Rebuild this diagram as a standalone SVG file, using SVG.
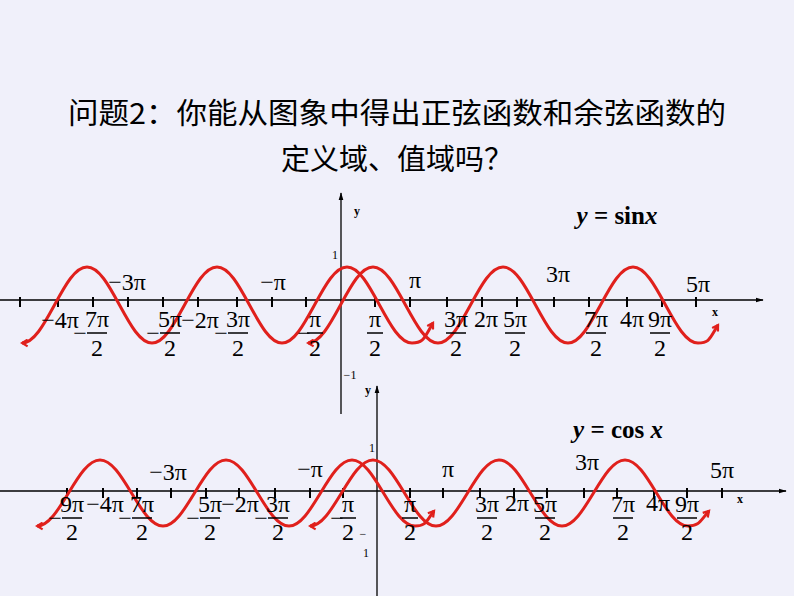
<svg xmlns="http://www.w3.org/2000/svg" width="794" height="596" viewBox="0 0 794 596">
<style>
.ax{stroke:#000;stroke-width:1.3;fill:none}
.tk{stroke:#000;stroke-width:2}
.cv{stroke:#e0201c;stroke-width:3;fill:none;marker-start:url(#ar);marker-end:url(#ar)}
.t{font-family:"Liberation Serif",serif;font-size:24px;fill:#000;text-anchor:middle}
.s{font-family:"Liberation Serif",serif;font-size:12px;fill:#000;text-anchor:middle}
.fl{stroke:#000;stroke-width:1.5}
.ttl{font-family:"Noto Sans CJK SC",sans-serif;font-size:29px;fill:#000;text-anchor:middle}
.eq{font-family:"Liberation Serif",serif;font-size:25px;font-weight:bold;fill:#000;text-anchor:middle}
</style>
<defs>
<marker id="ar" viewBox="0 0 8 8" refX="6" refY="4" markerWidth="3" markerHeight="3" orient="auto-start-reverse" markerUnits="strokeWidth"><path d="M1,1 L6,4 L1,7" fill="none" stroke="#e0201c" stroke-width="2"/></marker>
<marker id="ka" viewBox="0 0 10 10" refX="9" refY="5" markerWidth="6" markerHeight="6" orient="auto"><path d="M0,2 L10,5 L0,8 z" fill="#000"/></marker>
</defs>
<rect width="794" height="596" fill="#f0f0fa"/>
<g id="title">
<text class="ttl" x="397" y="124" textLength="658" lengthAdjust="spacingAndGlyphs">问题2：你能从图象中得出正弦函数和余弦函数的</text>
<text class="ttl" x="397" y="170">定义域、值域吗？</text>
</g>
<g id="axes">
<line class="ax" x1="0" y1="300" x2="763" y2="300" marker-end="url(#ka)"/>
<line class="ax" x1="341" y1="414" x2="341" y2="193" marker-end="url(#ka)"/>
<line class="ax" x1="0" y1="491" x2="786" y2="491" marker-end="url(#ka)"/>
<line class="ax" x1="377" y1="596" x2="377" y2="386" marker-end="url(#ka)"/>
<g class="tk">
<path d="M20,297v10M58,297v10M93,297v10M128,297v10M163,297v10M198,297v10M237,297v10M272,297v10M306,297v10M375,297v10M410,297v10M447,297v10M482,297v10M517,297v10M554,297v10M589,297v10M627,297v10M662,297v10M696,297v10"/>
<path d="M67,488v10M103,488v10M137,488v10M171,488v10M206,488v10M239,488v10M275,488v10M310,488v10M343,488v10M410,488v10M443,488v10M480,488v10M514,488v10M547,488v10M584,488v10M617,488v10M654,488v10M687,488v10M722,488v10"/>
</g>
</g>
<g id="curves">
<path class="cv" d="M22,343 c11.8,0 21.64,-18.05 32.5,-38 s20.7,-38 32.5,-38 s21.64,18.05 32.5,38 s20.7,38 32.5,38 s21.64,-18.05 32.5,-38 s20.7,-38 32.5,-38 s21.64,18.05 32.5,38 s20.7,38 32.5,38 s21.64,-18.05 32.5,-38 s20.7,-38 32.5,-38 s21.64,18.05 32.5,38 s20.7,38 32.5,38 s12,-5 21,-20"/>
<path class="cv" d="M308,343 c11.8,0 21.64,-18.05 32.5,-38 s20.7,-38 32.5,-38 s21.64,18.05 32.5,38 s20.7,38 32.5,38 s21.64,-18.05 32.5,-38 s20.7,-38 32.5,-38 s21.64,18.05 32.5,38 s20.7,38 32.5,38 s21.64,-18.05 32.5,-38 s20.7,-38 32.5,-38 s21.64,18.05 32.5,38 s20.7,38 32.5,38 s12,-5 20,-18"/>
<path class="cv" d="M37,526 c11.43,0 20.98,-15.7 31.5,-33 s20.07,-33 31.5,-33 s20.98,15.7 31.5,33 s20.07,33 31.5,33 s20.98,-15.7 31.5,-33 s20.07,-33 31.5,-33 s20.98,15.7 31.5,33 s20.07,33 31.5,33 s20.98,-15.7 31.5,-33 s20.07,-33 31.5,-33 s20.98,15.7 31.5,33 s20.07,33 31.5,33 s11,-5 19,-15"/>
<path class="cv" d="M310,526 c11.43,0 20.98,-15.7 31.5,-33 s20.07,-33 31.5,-33 s20.98,15.7 31.5,33 s20.07,33 31.5,33 s20.98,-15.7 31.5,-33 s20.07,-33 31.5,-33 s20.98,15.7 31.5,33 s20.07,33 31.5,33 s20.98,-15.7 31.5,-33 s20.07,-33 31.5,-33 s20.98,15.7 31.5,33 s20.07,33 31.5,33 s12,-5 21,-15"/>
</g>
<g id="labels-top">
<text class="eq" x="617" y="224"><tspan font-style="italic">y</tspan> = sin<tspan font-style="italic">x</tspan></text>
<text class="s" x="357" y="215" font-size="15" font-weight="bold">y</text>
<text class="s" x="335" y="259">1</text>
<text class="s" x="350" y="379">−1</text>
<text class="s" x="715" y="316" font-size="15" font-weight="bold">x</text>
<text class="t" x="127" y="290">−3π</text>
<text class="t" x="273" y="290">−π</text>
<text class="t" x="415" y="288">π</text>
<text class="t" x="558" y="282">3π</text>
<text class="t" x="698" y="292">5π</text>
<text class="t" x="60" y="328">−4π</text>
<text class="t" x="200" y="328">−2π</text>
<text class="t" x="486" y="327">2π</text>
<text class="t" x="632" y="327">4π</text>
<text class="t" x="97" y="327">7π</text><line class="fl" x1="87" y1="333" x2="107" y2="333"/><text class="t" x="97" y="356">2</text><text class="t" x="80" y="341">−</text>
<text class="t" x="170" y="327">5π</text><line class="fl" x1="160" y1="333" x2="180" y2="333"/><text class="t" x="170" y="356">2</text><text class="t" x="153" y="341">−</text>
<text class="t" x="238" y="327">3π</text><line class="fl" x1="228" y1="333" x2="248" y2="333"/><text class="t" x="238" y="356">2</text><text class="t" x="221" y="341">−</text>
<text class="t" x="315" y="327">π</text><line class="fl" x1="307" y1="333" x2="323" y2="333"/><text class="t" x="315" y="356">2</text><text class="t" x="304" y="341">−</text>
<text class="t" x="375" y="327">π</text><line class="fl" x1="367" y1="333" x2="383" y2="333"/><text class="t" x="375" y="356">2</text>
<text class="t" x="456" y="327">3π</text><line class="fl" x1="446" y1="333" x2="466" y2="333"/><text class="t" x="456" y="356">2</text>
<text class="t" x="515" y="327">5π</text><line class="fl" x1="505" y1="333" x2="525" y2="333"/><text class="t" x="515" y="356">2</text>
<text class="t" x="596" y="327">7π</text><line class="fl" x1="586" y1="333" x2="606" y2="333"/><text class="t" x="596" y="356">2</text>
<text class="t" x="660" y="327">9π</text><line class="fl" x1="650" y1="333" x2="670" y2="333"/><text class="t" x="660" y="356">2</text>
</g>
<g id="labels-bottom">
<text class="eq" x="618" y="438"><tspan font-style="italic">y</tspan> = cos <tspan font-style="italic">x</tspan></text>
<text class="s" x="368" y="394" font-size="15" font-weight="bold">y</text>
<text class="s" x="372" y="452">1</text>
<text class="s" x="363" y="538">−</text>
<text class="s" x="366" y="557">1</text>
<text class="s" x="740" y="503" font-size="15" font-weight="bold">x</text>
<text class="t" x="168" y="480">−3π</text>
<text class="t" x="310" y="477">−π</text>
<text class="t" x="448" y="477">π</text>
<text class="t" x="587" y="470">3π</text>
<text class="t" x="722" y="478">5π</text>
<text class="t" x="105" y="512">−4π</text>
<text class="t" x="240" y="512">−2π</text>
<text class="t" x="517" y="511">2π</text>
<text class="t" x="658" y="511">4π</text>
<text class="t" x="72" y="512">9π</text><line class="fl" x1="62" y1="518" x2="82" y2="518"/><text class="t" x="72" y="540">2</text><text class="t" x="55" y="526">−</text>
<text class="t" x="142" y="512">7π</text><line class="fl" x1="132" y1="518" x2="152" y2="518"/><text class="t" x="142" y="540">2</text><text class="t" x="125" y="526">−</text>
<text class="t" x="210" y="512">5π</text><line class="fl" x1="200" y1="518" x2="220" y2="518"/><text class="t" x="210" y="540">2</text><text class="t" x="193" y="526">−</text>
<text class="t" x="278" y="512">3π</text><line class="fl" x1="268" y1="518" x2="288" y2="518"/><text class="t" x="278" y="540">2</text><text class="t" x="261" y="526">−</text>
<text class="t" x="348" y="512">π</text><line class="fl" x1="340" y1="518" x2="356" y2="518"/><text class="t" x="348" y="540">2</text><text class="t" x="337" y="526">−</text>
<text class="t" x="410" y="512">π</text><line class="fl" x1="402" y1="518" x2="418" y2="518"/><text class="t" x="410" y="540">2</text>
<text class="t" x="487" y="512">3π</text><line class="fl" x1="477" y1="518" x2="497" y2="518"/><text class="t" x="487" y="540">2</text>
<text class="t" x="545" y="512">5π</text><line class="fl" x1="535" y1="518" x2="555" y2="518"/><text class="t" x="545" y="540">2</text>
<text class="t" x="623" y="512">7π</text><line class="fl" x1="613" y1="518" x2="633" y2="518"/><text class="t" x="623" y="540">2</text>
<text class="t" x="687" y="512">9π</text><line class="fl" x1="677" y1="518" x2="697" y2="518"/><text class="t" x="687" y="540">2</text>
</g>
</svg>
